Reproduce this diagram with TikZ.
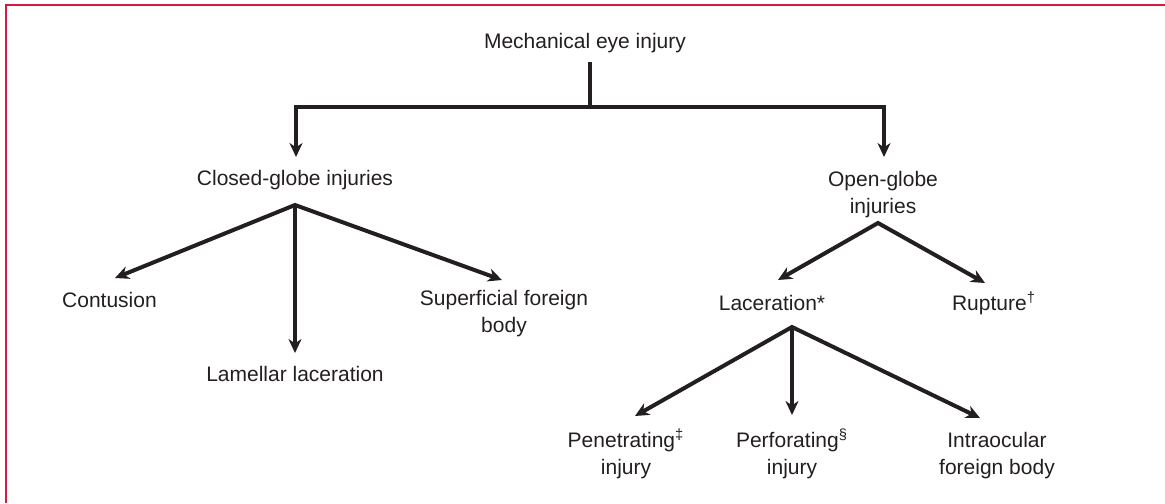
\documentclass[tikz,border=0pt]{standalone}
\usepackage{fontspec}
\setmainfont{Liberation Sans}
\usetikzlibrary{arrows.meta,calc}
\definecolor{ink}{RGB}{35,31,32}
\definecolor{framered}{RGB}{214,24,66}
% centred two-line label whose baseline is that of the first line
\newcommand{\twoline}[2]{\begin{tabular}[t]{@{}c@{}}#1\\#2\end{tabular}}

\begin{document}
\begin{tikzpicture}[x=0.5pt,y=-0.5pt,
  lbl/.style={anchor=base,inner sep=0pt,outer sep=0pt,text height=7.5pt,
              text=ink,font=\fontsize{10.5pt}{13.8pt}\selectfont},
  conn/.style={draw=ink,line width=2pt,line join=miter},
  tip/.style={Stealth[length=7pt,width=6.5pt,inset=2.2pt]},
  arr/.style={conn,-{Stealth[length=7pt,width=6.5pt,inset=2.2pt]}},
  arrboth/.style={conn,{Stealth[length=7pt,width=6.5pt,inset=2.2pt]}-{Stealth[length=7pt,width=6.5pt,inset=2.2pt]}}]
\useasboundingbox (0,0) rectangle (1165,503);

% frame rule on the top and left edges
\draw[framered,line width=1pt] (6,503) -- (6,5) -- (1165,5);

% labels
\node[lbl] (title)       at (585,48)  {Mechanical eye injury};
\node[lbl] (closed)      at (295,185) {Closed-globe injuries};
\node[lbl] (open)        at (883,186) {\twoline{Open-globe}{injuries}};
\node[lbl] (contusion)   at (109.5,307) {Contusion};
\node[lbl] (lamellar)    at (295,381) {Lamellar laceration};
\node[lbl] (superficial) at (504,305) {\twoline{Superficial foreign}{body}};
\node[lbl] (laceration)  at (772,310) {Laceration*};
\node[lbl] (rupture)     at (994,310) {Rupture\textsuperscript{†}};
\node[lbl] (penetrating) at (626,447) {\twoline{Penetrating\textsuperscript{‡}}{injury}};
\node[lbl] (perforating) at (792,447) {\twoline{Perforating\textsuperscript{§}}{injury}};
\node[lbl] (intraocular) at (997,447) {\twoline{Intraocular}{foreign body}};

% branch points and arrow ends
\coordinate (stem)     at ($(title.base)+(5,14)$);
\coordinate (hub)      at ($(stem)+(0,45)$);
\coordinate (t-closed) at ($(closed.north)+(1,-13)$);
\coordinate (t-open)   at ($(open.north)+(1,-14)$);

\coordinate (c-apex)        at ($(closed.base)+(0,20)$);
\coordinate (t-contusion)   at ($(contusion.north)+(5.5,-14)$);
\coordinate (t-lamellar)    at ($(lamellar.north)+(0,-13)$);
\coordinate (t-superficial) at ($(superficial.north)+(-2,-10)$);

\coordinate (o-apex)       at ($(open.base)+(-5,37)$);
\coordinate (t-laceration) at ($(laceration.north)+(6,-15)$);
\coordinate (t-rupture)    at ($(rupture.north)+(-9,-12)$);

\coordinate (l-apex)        at ($(laceration.base)+(20,17)$);
\coordinate (t-penetrating) at ($(penetrating.north)+(9,-16)$);
\coordinate (t-perforating) at ($(perforating.north)+(0,-17)$);
\coordinate (t-intraocular) at ($(intraocular.north)+(-17,-14)$);

% top split
\draw[conn] (stem) -- (hub);
\draw[arr] (hub) -| (t-closed);
\draw[arr] (hub) -| (t-open);

% closed-globe branch
\draw[arrboth] (t-contusion) -- (c-apex) -- (t-superficial);
\draw[arr] (c-apex) -- (t-lamellar);

% open-globe branch
\draw[arrboth] (t-laceration) -- (o-apex) -- (t-rupture);

% laceration branch
\draw[arrboth] (t-penetrating) -- (l-apex) -- (t-intraocular);
\draw[arr] (l-apex) -- (t-perforating);
\end{tikzpicture}
\end{document}
